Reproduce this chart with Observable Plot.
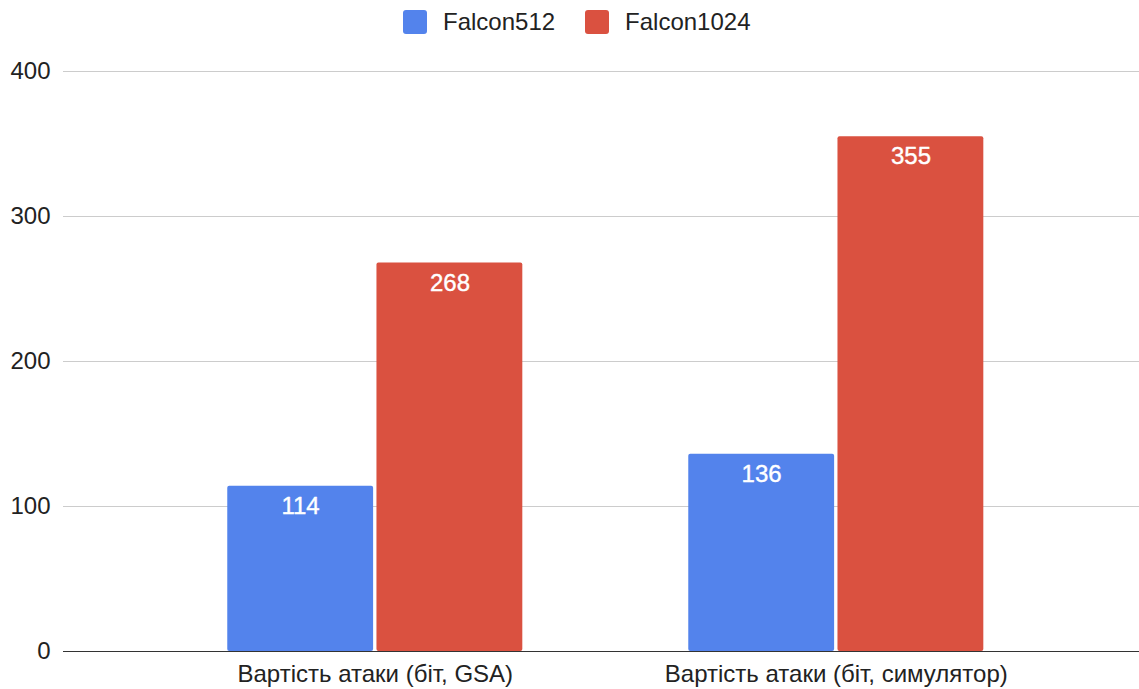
<!DOCTYPE html>
<html><head><meta charset="utf-8">
<script src="https://cdn.jsdelivr.net/npm/d3@7"></script>
<script src="https://cdn.jsdelivr.net/npm/@observablehq/plot@0.6"></script>
<style>
body{margin:0;background:#fff;font-family:"Liberation Sans",Arial,sans-serif;}
#legend{height:44px;display:flex;align-items:center;padding-left:403px;box-sizing:border-box;font-size:24px;color:#222;}
.item{display:flex;align-items:center;margin-right:30px;}
.sw{width:24px;height:24px;border-radius:3px;margin-right:16px;}
</style></head><body>
<div id="legend"></div><div id="chart"></div>
<script>
const categories = ["Вартість атаки (біт, GSA)", "Вартість атаки (біт, симулятор)"];
const series = ["Falcon512", "Falcon1024"];
const falcon512 = [114, 136];
const falcon1024 = [268, 355];
const colors = ["#5383ec", "#da5140"];
const yTicks = [0, 100, 200, 300, 400];

const data512 = categories.map((c, i) => ({category: c, series: series[0], value: falcon512[i]}));
const data1024 = categories.map((c, i) => ({category: c, series: series[1], value: falcon1024[i]}));

const legend = document.getElementById("legend");
series.forEach((s, i) => {
  const it = document.createElement("div");
  it.className = "item";
  it.innerHTML = `<span class="sw" style="background:${colors[i]}"></span><span>${s}</span>`;
  legend.appendChild(it);
});

const chart = Plot.plot({
  width: 1139,
  height: 645,
  marginLeft: 63,
  marginRight: 0,
  marginTop: 27,
  marginBottom: 38,
  style: {fontFamily: '"Liberation Sans", Arial, sans-serif', fontSize: "24px", color: "#222", background: "#fff"},
  x: {domain: categories, paddingInner: 0.36, paddingOuter: 0.347, align: 0.5134, round: false},
  y: {domain: [0, 400]},
  color: {domain: series, range: colors},
  marks: [
    Plot.gridY({ticks: yTicks, stroke: "#cccccc", strokeOpacity: 1, strokeWidth: 1.2}),
    Plot.axisY({ticks: yTicks, tickSize: 0, tickPadding: 13, label: null, fontSize: 24}),
    Plot.axisX({tickSize: 0, tickPadding: 13, label: null, fontSize: 24}),
    Plot.barY(data512, {x: "category", y: "value", fill: "series", insetRight: 149.2, rx: 2}),
    Plot.barY(data1024, {x: "category", y: "value", fill: "series", insetLeft: 149.2, rx: 2}),
    Plot.ruleY([0], {stroke: "#333", strokeWidth: 1.2}),
    Plot.text(data512, {x: "category", y: "value", text: d => String(d.value), dx: -74.7, dy: 20, fill: "white", fontSize: 24, stroke: "white", strokeWidth: 0.4}),
    Plot.text(data1024, {x: "category", y: "value", text: d => String(d.value), dx: 74.7, dy: 20, fill: "white", fontSize: 24, stroke: "white", strokeWidth: 0.4})
  ]
});
document.getElementById("chart").appendChild(chart);
</script>
</body></html>
